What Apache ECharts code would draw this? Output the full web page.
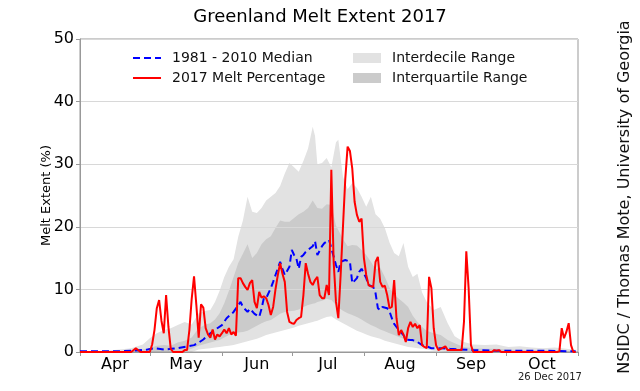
<!DOCTYPE html>
<html><head><meta charset="utf-8">
<script src="https://cdn.jsdelivr.net/npm/echarts@6/dist/echarts.min.js"></script>
<style>html,body{margin:0;padding:0;background:#fff}#c{width:640px;height:391px}</style>
</head><body><div id="c"></div>
<script>
// x axis = day of year (Apr 1 = 91, Nov 1 = 305)
const monthStarts = [91, 121, 152, 182, 213, 244, 274, 305];
const monthLabels = ['Apr', 'May', 'Jun', 'Jul', 'Aug', 'Sep', 'Oct'];
const yTicks = [0, 10, 20, 30, 40, 50];

// 2017 melt percentage
const meltDays = [91,112,113,115,117,121,122,123,124,125,126,127,128,129,130,131,135,136,137,138,139,140,141,142,143,144,145,146,147,148,149,150,151,152,153,154,155,156,157,158,159,160,161,162,163,164,165,166,167,168,169,170,171,172,173,174,175,176,177,178,179,180,181,182,183,184,185,186,187,188,189,190,191,192,193,194,195,196,197,198,199,200,201,202,203,204,205,206,207,208,209,210,211,212,213,214,215,216,217,218,219,220,221,222,223,224,225,226,227,228,229,230,231,232,233,234,235,236,237,238,239,240,241,242,243,244,245,248,249,255,256,257,258,259,260,268,269,270,271,272,296,297,298,299,300,301,302,303,304];
const meltVals = [0,0,0,0.6,0,0,1.2,3.5,7.0,8.3,5.0,3.0,9.1,4.0,0.5,0,0,0.3,0.3,3.5,8.5,12.1,7.5,2.3,7.6,7.1,3.8,2.8,2.3,3.6,2.0,2.8,2.5,3.0,3.6,3.0,3.8,2.8,3.2,2.6,11.8,11.8,11.0,10.4,9.9,11.0,11.5,8.0,7.0,9.6,8.7,8.9,8.6,7.5,5.9,7.2,10.0,12.3,14.2,12.5,11.2,6.4,4.8,4.6,4.5,5.1,5.4,5.6,9.1,14.2,12.5,11.2,10.7,11.5,12.0,9.1,8.6,8.6,10.7,9.1,29.1,14.4,8.0,5.4,12.3,20.0,27.7,32.8,32.1,29.3,24.0,21.9,20.8,21.3,15.0,12.3,10.7,10.5,10.4,14.4,15.2,11.2,10.4,10.6,9.1,7.0,7.2,11.5,5.4,2.7,3.5,2.8,1.6,3.8,4.8,4.0,4.5,3.8,4.3,1.1,0.8,0.6,12.0,10.2,3.8,1.1,0.3,0.9,0.3,0.3,4.8,16.1,10.2,1.1,0,0,0.3,0.2,0.3,0,0,0.1,3.8,2.2,3.2,4.6,1.1,0,0];

// 1981-2010 median
const medDays = [91,105,114,120,123,127,130,133,137,140,142,144,147,150,152,154,157,160,161,163,164,166,168,169,170,171,173,174,175,177,178,179,181,182,183,184,185,186,187,188,190,191,192,193,195,196,198,199,201,202,203,205,207,208,210,211,212,214,215,217,218,219,220,221,223,224,225,226,228,230,231,233,234,236,238,240,242,246,250,260,270,290,304];
const medVals = [0.1,0.1,0.2,0.4,0.6,0.4,0.5,0.6,0.9,1.1,1.5,2.0,3.0,3.8,4.3,5.4,6.4,8.0,7.2,6.4,6.9,6.1,5.6,6.9,8.6,8.6,10.2,11.2,12.3,14.4,13.3,12.3,13.6,16.3,15.5,14.9,13.3,15.2,15.5,16.0,16.6,16.9,17.7,15.5,16.9,17.4,17.9,16.6,13.9,12.8,14.4,14.7,14.4,11.0,11.8,12.8,13.3,11.8,10.7,10.4,9.4,7.0,6.7,7.2,7.0,6.5,5.4,4.5,3.5,2.7,2.0,1.9,1.9,1.6,1.1,0.9,0.6,0.6,0.5,0.3,0.2,0.2,0.1];

// ranges (decile / quartile bounds)
const bandDays = [91,100,108,113,118,121,124,127,130,133,136,139,142,145,147,149,151,153,155,157,159,161,163,165,167,169,171,173,175,177,179,181,183,185,187,189,191,192,193,195,197,199,201,202,204,206,208,210,212,214,216,218,220,222,224,226,228,230,232,234,236,238,240,243,246,249,252,256,260,265,270,275,280,285,290,295,300,305];
const decHigh = [0,0.1,0.4,0.6,1.2,2.2,3.0,3.5,3.8,4.3, 4.8,4.4,6.2,6.6,6.7,8.0,9.8,12.0,13.6,14.8, 18.4,21.0,24.8,22.4,22.2,23.0,24.2,24.8,25.4,26.5, 28.5,30.2,29.5,28.8,30.5,32.5,36.0,34.5,30.0,30.2, 31.0,29.5,33.5,33.9,28.0,26.0,27.0,26.2,24.8,23.2, 24.8,22.0,21.3,19.8,17.5,15.8,15.3,17.4,13.6,12.0, 12.5,9.5,8.0,6.7,7.2,4.6,2.5,1.6,1.2,1.1, 1.2,0.8,0.9,0.7,0.6,0.7,0.5,0.3];
const qHigh = [0,0,0.1,0.2,0.4,0.6,1.0,1.1,1.0,1.5, 1.8,2.3,3.8,4.4,4.6,5.2,6.2,7.8,9.8,12.0, 14.2,15.7,17.2,15.0,15.8,17.2,18.0,18.5,19.8,21.0, 20.8,20.8,21.4,22.0,22.4,23.0,24.2,23.6,23.0,22.9, 23.6,23.5,20.2,19.5,18.0,16.9,17.1,17.0,16.3,15.5, 14.4,13.2,13.5,12.0,10.3,9.2,8.5,7.9,7.2,5.8, 4.8,4.0,3.4,3.0,2.7,1.9,1.4,0.8,0.6,0.5, 0.5,0.4,0.3,0.3,0.3,0.2,0.2,0.1];
const qLow = [0,0,0,0,0,0,0,0,0,0, 0.2,0.5,1.0,1.3,1.5,1.7,1.9,2.3,2.7,3.0, 3.1,3.2,3.4,3.8,4.2,4.6,4.9,5.1,5.6,6.1, 6.4,6.5,6.6,6.8,7.2,7.5,7.7,7.8,8.0,8.2, 8.5,8.3,7.5,7.1,6.6,6.2,5.9,5.6,5.2,4.7, 4.3,4.0,3.6,3.3,3.0,2.7,2.4,2.1,1.9,1.6, 1.4,1.2,1.0,0.8,0.7,0.4,0.2,0.1,0,0, 0,0,0,0,0,0,0,0];
const decLow = [0,0,0,0,0,0,0,0,0,0, 0,0,0.4,0.5,0.6,0.7,0.8,0.9,1.0,1.1, 1.3,1.5,1.7,1.9,2.1,2.4,2.7,2.9,3.1,3.3, 3.5,3.7,3.9,4.2,4.4,4.6,4.8,4.9,5.0,5.3, 5.6,5.7,5.2,5.0,4.6,4.2,3.8,3.4,3.1,2.8, 2.5,2.3,2.1,1.8,1.6,1.4,1.2,1.0,0.8,0.7, 0.6,0.5,0.4,0.2,0.1,0,0,0,0,0, 0,0,0,0,0,0,0,0];

const zip = (xs, ys) => xs.map((x, i) => [x, ys[i]]);
const monthMids = monthStarts.slice(0, -1).map((s, i) => (s + monthStarts[i + 1]) / 2);

const LIGHT = '#e2e2e2', DARK = '#cbcbcb';
const FONT = 'DejaVu Sans';
const chart = echarts.init(document.getElementById('c'), null, {renderer: 'canvas'});

// bands are layered fills from the axis: upper decile (light), upper quartile (dark),
// lower quartile (light again), lower decile (white)
const fill = (name, ys, color) => ({
  name, type: 'line', data: zip(bandDays, ys), symbol: 'none', silent: true, z: 1,
  lineStyle: {width: 0, opacity: 0},
  itemStyle: {color},
  areaStyle: {color, opacity: 1, origin: 'start'},
  emphasis: {disabled: true}
});

const legendText = {fontFamily: FONT, fontSize: 14, color: '#111', lineHeight: 14, padding: [0, 0, 0, 6]};

chart.setOption({
  animation: false,
  textStyle: {fontFamily: FONT},
  title: {
    text: 'Greenland Melt Extent 2017', left: 'center', top: 3,
    textStyle: {fontFamily: FONT, fontSize: 18, fontWeight: 'normal', color: '#000'}
  },
  legend: [{
    left: 127, top: 46, orient: 'vertical', itemWidth: 28, itemHeight: 10, itemGap: 6,
    textStyle: legendText, selectedMode: false,
    data: [
      {name: '1981 - 2010 Median', itemStyle: {opacity: 0}},
      {name: '2017 Melt Percentage', itemStyle: {opacity: 0}}
    ]
  }, {
    left: 348, top: 46, orient: 'vertical', itemWidth: 28, itemHeight: 10, itemGap: 6,
    textStyle: legendText, selectedMode: false,
    data: [{name: 'Interdecile Range', icon: 'rect'}, {name: 'Interquartile Range', icon: 'rect'}]
  }],
  grid: {left: 80, right: 62, top: 39, bottom: 39, show: true, borderColor: '#999', borderWidth: 1, backgroundColor: 'transparent', z: 3},
  xAxis: {
    type: 'value', min: monthStarts[0], max: monthStarts[monthStarts.length - 1], z: 3,
    axisLine: {show: true, onZero: false, lineStyle: {color: '#999'}},
    axisTick: {show: true, length: 4, inside: false, customValues: monthStarts, lineStyle: {color: '#999'}},
    axisLabel: {
      customValues: monthMids, margin: 5, fontSize: 16, color: '#000', fontFamily: FONT,
      formatter: v => monthLabels[monthMids.indexOf(v)] || ''
    },
    splitLine: {show: false}
  },
  yAxis: {
    type: 'value', min: yTicks[0], max: yTicks[yTicks.length - 1], interval: 10, z: 3,
    name: 'Melt Extent (%)', nameLocation: 'middle', nameGap: 27, nameMoveOverlap: false,
    nameTextStyle: {fontFamily: FONT, fontSize: 13, color: '#000'},
    axisLine: {show: true, lineStyle: {color: '#999'}},
    axisTick: {show: true, length: 4, lineStyle: {color: '#999'}},
    axisLabel: {fontSize: 16, color: '#000', margin: 6, fontFamily: FONT},
    splitLine: {show: true, lineStyle: {color: '#d8d8d8', width: 1}}
  },
  series: [
    fill('Interdecile Range', decHigh, LIGHT),
    fill('Interquartile Range', qHigh, DARK),
    fill('quartileLow', qLow, LIGHT),
    fill('decileLow', decLow, '#ffffff'),
    {
      name: '1981 - 2010 Median', type: 'line', data: zip(medDays, medVals), symbol: 'none', z: 4,
      lineStyle: {color: '#0000ff', width: 2, type: [7, 4]}, itemStyle: {color: '#0000ff'}
    },
    {
      name: '2017 Melt Percentage', type: 'line', data: zip(meltDays, meltVals), symbol: 'none', z: 5,
      lineStyle: {color: '#ff0000', width: 2}, itemStyle: {color: '#ff0000'}
    }
  ],
  graphic: [
    {type: 'text', left: 518, top: 372, style: {text: '26 Dec 2017', fontFamily: FONT, fontSize: 10, fill: '#222'}},
    {type: 'text', x: 625, y: 197, rotation: Math.PI / 2,
     style: {text: 'NSIDC / Thomas Mote, University of Georgia', fontFamily: FONT, fontSize: 16, fill: '#111', align: 'center', verticalAlign: 'middle'}}
  ]
});
</script></body></html>
